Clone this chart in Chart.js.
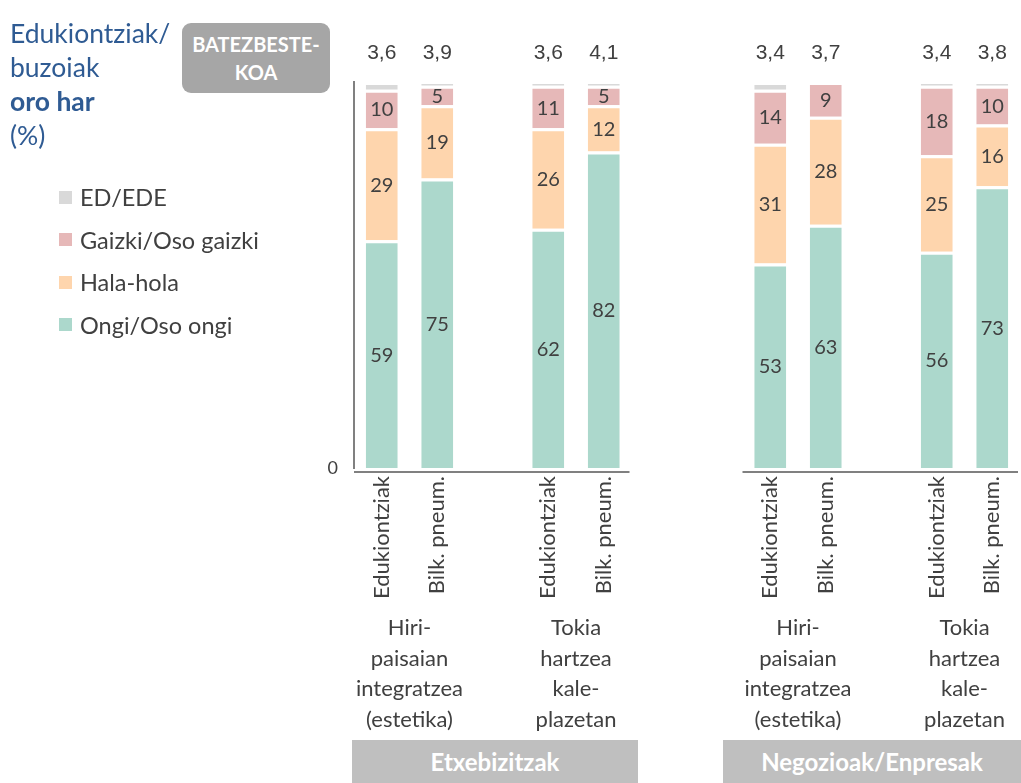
<!DOCTYPE html>
<html>
<head>
<meta charset="utf-8">
<script src="https://cdn.jsdelivr.net/npm/chart.js@4.4.1/dist/chart.umd.min.js"></script>
<style>
  body { margin: 0; background: #fff; font-family: Lato, "Open Sans", sans-serif; }
  #wrap { position: relative; width: 1021px; height: 783px; overflow: hidden; }
  #chartBox { position: absolute; left: 0; top: 0; width: 1021px; height: 783px; }
  .title { position: absolute; left: 10px; top: 16px; color: #2f5b93; font-size: 26.5px; line-height: 34px; }
  .title b { font-weight: 700; }
  .avgBox { position: absolute; left: 182px; top: 23px; width: 148px; height: 70px; background: #a6a6a6;
            border-radius: 9px; color: #fff; font-weight: 700; font-size: 20px; line-height: 28px;
            text-align: center; padding-top: 7px; box-sizing: border-box; }
  .legend { position: absolute; left: 59px; top: 176px; }
  .legend div { height: 42.5px; display: flex; align-items: center; color: #404040; font-size: 23.5px; }
  .legend span { display: inline-block; width: 13px; height: 13px; margin-right: 8px; }
  .panel { position: absolute; top: 740px; height: 43px; background: #bfbfbf; color: #fff; font-weight: 700;
           font-size: 24px; line-height: 44px; text-align: center; }
</style>
</head>
<body>
<div id="wrap">
  <div id="chartBox"><canvas id="grafico"></canvas></div>
  <div class="title">Edukiontziak/<br>buzoiak<br><b>oro har</b><br>(%)</div>
  <div class="avgBox">BATEZBESTE-<br>KOA</div>
  <div class="legend" id="leyenda"></div>
  <div class="panel" style="left:352px;width:286px;">Etxebizitzak</div>
  <div class="panel" style="left:723px;width:298px;">Negozioak/Enpresak</div>
</div>
<script>
// categorias (huecos vacios entre grupos y paneles)
const categorias = ["Edukiontziak", "Bilk. pneum.", "", "Edukiontziak", "Bilk. pneum.", "", "",
                    "Edukiontziak", "Bilk. pneum.", "", "Edukiontziak", "Bilk. pneum."]

const ongi = [59, 75, null, 62, 82, null, null, 53, 63, null, 56, 73]
const halaHola = [29, 19, null, 26, 12, null, null, 31, 28, null, 25, 16]
const gaizki = [10, 5, null, 11, 5, null, null, 14, 9, null, 18, 10]
const edEde = [2, 1, null, 1, 1, null, null, 2, 0, null, 1, 1]

const batezbestekoa = [3.6, 3.9, null, 3.6, 4.1, null, null, 3.4, 3.7, null, 3.4, 3.8]

// etiquetas de grupo: indice de la primera barra y lineas de texto
const grupos = [
    { desde: 0, lineas: ["Hiri-", "paisaian", "integratzea", "(estetika)"] },
    { desde: 3, lineas: ["Tokia", "hartzea", "kale-", "plazetan"] },
    { desde: 7, lineas: ["Hiri-", "paisaian", "integratzea", "(estetika)"] },
    { desde: 10, lineas: ["Tokia", "hartzea", "kale-", "plazetan"] }
]
// tramos del eje x (por panel)
const paneles = [[0, 4], [7, 11]]

const series = [
    { label: "Ongi/Oso ongi", data: ongi, color: "#acd8cc" },
    { label: "Hala-hola", data: halaHola, color: "#fed5ad" },
    { label: "Gaizki/Oso gaizki", data: gaizki, color: "#e6b8b8" },
    { label: "ED/EDE", data: edEde, color: "#d9d9d9" }
]

// leyenda html (orden inverso, como en el original)
const leyenda = document.getElementById("leyenda")
series.slice().reverse().forEach(s => {
    const item = document.createElement("div")
    item.innerHTML = `<span style="background:${s.color}"></span>${s.label}`
    leyenda.appendChild(item)
})

const fuente = "Lato, 'Open Sans', sans-serif"

const etiquetasPlugin = {
    id: "etiquetas",
    afterDraw(chart) {
        const ctx = chart.ctx
        const x = chart.scales.x
        const area = chart.chartArea
        ctx.save()

        // ejes x por panel
        ctx.strokeStyle = "#808080"
        ctx.lineWidth = 2
        paneles.forEach(([a, b]) => {
            const half = (x.getPixelForValue(1) - x.getPixelForValue(0)) / 2
            ctx.beginPath()
            ctx.moveTo(x.getPixelForValue(a) - half, area.bottom + 4)
            ctx.lineTo(x.getPixelForValue(b) + half - 2, area.bottom + 4)
            ctx.stroke()
        })

        // valores dentro de las barras
        ctx.fillStyle = "#404040"
        ctx.font = "20px " + fuente
        ctx.textAlign = "center"
        ctx.textBaseline = "middle"
        for (let d = 0; d < 3; d++) {
            const meta = chart.getDatasetMeta(d)
            meta.data.forEach((bar, i) => {
                const v = series[d].data[i]
                if (v === null || v === undefined) return
                ctx.fillText(String(v), bar.x, (bar.y + bar.base) / 2 + 1)
            })
        }

        // batezbestekoa arriba
        ctx.font = "21px 'Liberation Sans', Arial, sans-serif"
        batezbestekoa.forEach((v, i) => {
            if (v === null) return
            ctx.fillText(v.toFixed(1).replace(".", ","), x.getPixelForValue(i), area.top - 29)
        })

        // etiquetas de grupo
        ctx.font = "22px " + fuente
        grupos.forEach(g => {
            const cx = (x.getPixelForValue(g.desde) + x.getPixelForValue(g.desde + 1)) / 2
            g.lineas.forEach((linea, k) => {
                ctx.fillText(linea, cx, 628 + k * 30.5)
            })
        })
        ctx.restore()
    }
}

new Chart(document.getElementById("grafico"), {
    type: "bar",
    data: {
        labels: categorias,
        datasets: series.map(s => ({
            label: s.label,
            data: s.data,
            backgroundColor: s.color,
            borderColor: "#ffffff",
            borderWidth: { top: 3, left: 0, right: 0, bottom: 0 },
            borderSkipped: "start",
            categoryPercentage: 0.8,
            barPercentage: 0.72
        }))
    },
    options: {
        responsive: true,
        maintainAspectRatio: false,
        animation: false,
        layout: { padding: { left: 324, right: 1, top: 82, bottom: 0 } },
        plugins: {
            legend: { display: false },
            tooltip: { enabled: false }
        },
        scales: {
            x: {
                stacked: true,
                grid: { display: false },
                border: { display: false },
                ticks: {
                    autoSkip: false,
                    maxRotation: 90,
                    minRotation: 90,
                    padding: 0,
                    color: "#404040",
                    font: { family: fuente, size: 22 }
                },
                afterFit(scale) { scale.height = 315 }
            },
            y: {
                stacked: true,
                min: 0,
                max: 100,
                grid: { display: false },
                border: { display: true, color: "#808080", width: 2 },
                ticks: {
                    stepSize: 100,
                    padding: 8,
                    color: "#404040",
                    font: { family: fuente, size: 18 },
                    callback: (v) => v === 0 ? "0" : ""
                },
                afterFit(scale) { scale.width = 30 }
            }
        }
    },
    plugins: [etiquetasPlugin]
})
</script>
</body>
</html>
